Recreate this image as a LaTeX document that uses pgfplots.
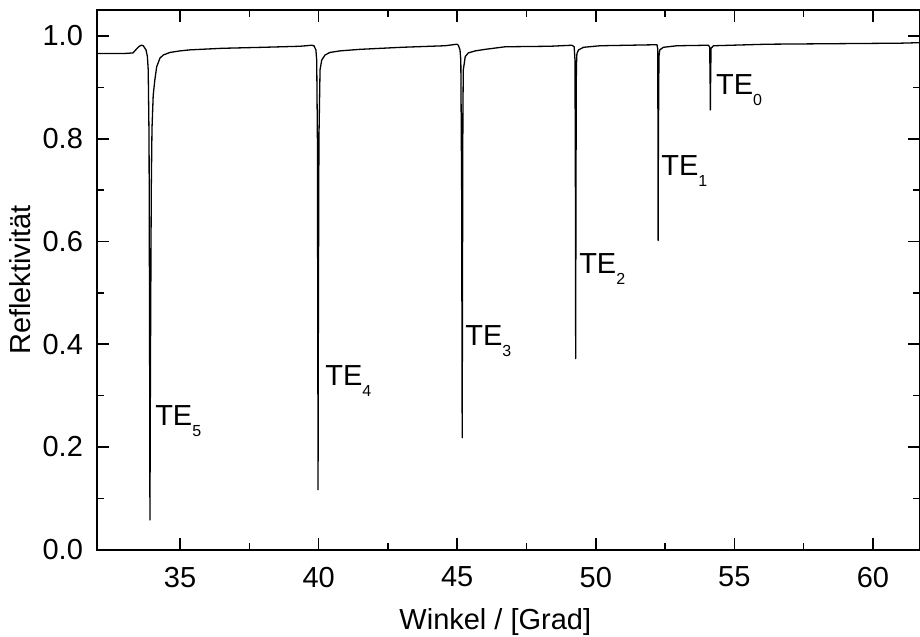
\documentclass[border=0pt]{standalone}
\usepackage{fontspec}
\setmainfont{Liberation Sans}
\usepackage{pgfplots}
\pgfplotsset{compat=1.18}
\newcommand{\lbl}{\fontsize{14.5}{16}\selectfont}
\newcommand{\TE}[1]{TE\raisebox{-5.5pt}{\fontsize{8}{8}\selectfont #1}}
\begin{document}
\begin{tikzpicture}
\begin{axis}[
  name=ax, scale only axis, width=411.7pt, height=270pt,
  xmin=32, xmax=61.7, ymin=0, ymax=1.0506,
  xtick={35,40,45,50,55,60}, minor x tick num=1,
  ytick={0,0.2,0.4,0.6,0.8,1.0}, minor y tick num=1,
  tick align=inside, tick pos=both,
  major tick length=6pt, minor tick length=3.5pt,
  axis line style={line width=1pt},
  every tick/.style={black, line width=0.8pt},
  /pgf/number format/assume math mode=true,
  yticklabel style={/pgf/number format/fixed, /pgf/number format/fixed zerofill,
    /pgf/number format/precision=1, xshift=-3.5pt},
  tick label style={font=\lbl},
  xticklabel style={yshift=-5pt},
  every axis x label/.style={at={(axis description cs:0.484,0)}, anchor=center, yshift=-36pt, font=\lbl},
  every axis y label/.style={at={(axis description cs:-0.0935,0.5)}, rotate=90, anchor=center, font=\lbl},
  xlabel={Winkel / [Grad]}, ylabel={Reflektivität},
]
\addplot[black, line width=0.65pt, line join=round] coordinates {
(32.00,0.966) (32.50,0.966) (33.00,0.966) (33.30,0.967) (33.45,0.976) (33.53,0.980)
(33.60,0.982) (33.67,0.981) (33.77,0.973) (33.82,0.960) (33.85,0.934) (33.88,0.80)
(33.90,0.40) (33.912,0.058) (33.93,0.35) (33.96,0.70) (33.986,0.82) (34.03,0.885)
(34.09,0.915) (34.155,0.940) (34.274,0.957) (34.394,0.963) (34.635,0.968) (35.00,0.971)
(35.36,0.973) (36.50,0.976) (38.00,0.978) (39.33,0.980) (39.75,0.982) (39.83,0.981)
(39.90,0.973) (39.93,0.953) (39.955,0.80) (39.97,0.40) (39.978,0.117) (39.99,0.45)
(40.01,0.80) (40.05,0.934) (40.11,0.953) (40.23,0.963) (40.41,0.968) (40.77,0.971)
(41.49,0.974) (43.00,0.978) (44.56,0.981) (44.99,0.984) (45.04,0.982) (45.10,0.973)
(45.13,0.953) (45.16,0.70) (45.18,0.218) (45.19,0.50) (45.205,0.85) (45.22,0.934)
(45.29,0.960) (45.40,0.967) (45.65,0.971) (46.01,0.974) (46.73,0.979) (48.35,0.980)
(49.14,0.982) (49.22,0.979) (49.25,0.953) (49.265,0.70) (49.275,0.372) (49.285,0.70)
(49.30,0.94) (49.32,0.966) (49.38,0.973) (49.56,0.978) (50.16,0.981) (52.21,0.983)
(52.235,0.975) (52.245,0.80) (52.25,0.602) (52.26,0.80) (52.28,0.96) (52.31,0.973)
(52.44,0.978) (52.93,0.981) (54.07,0.982) (54.11,0.978) (54.125,0.92) (54.135,0.856)
(54.145,0.92) (54.16,0.976) (54.25,0.981) (56.18,0.984) (60.99,0.986) (61.70,0.987)
};
\node[anchor=base west, inner sep=0, font=\lbl] at (axis cs:34.09,0.241) {\TE{5}};
\node[anchor=base west, inner sep=0, font=\lbl] at (axis cs:40.23,0.319) {\TE{4}};
\node[anchor=base west, inner sep=0, font=\lbl] at (axis cs:45.28,0.397) {\TE{3}};
\node[anchor=base west, inner sep=0, font=\lbl] at (axis cs:49.39,0.537) {\TE{2}};
\node[anchor=base west, inner sep=0, font=\lbl] at (axis cs:52.35,0.728) {\TE{1}};
\node[anchor=base west, inner sep=0, font=\lbl] at (axis cs:54.33,0.887) {\TE{0}};
\end{axis}
\pgfresetboundingbox
\path[use as bounding box] ([xshift=-48.5pt,yshift=-43.5pt]ax.south west) rectangle ([yshift=5pt]ax.north east);
\end{tikzpicture}
\end{document}
